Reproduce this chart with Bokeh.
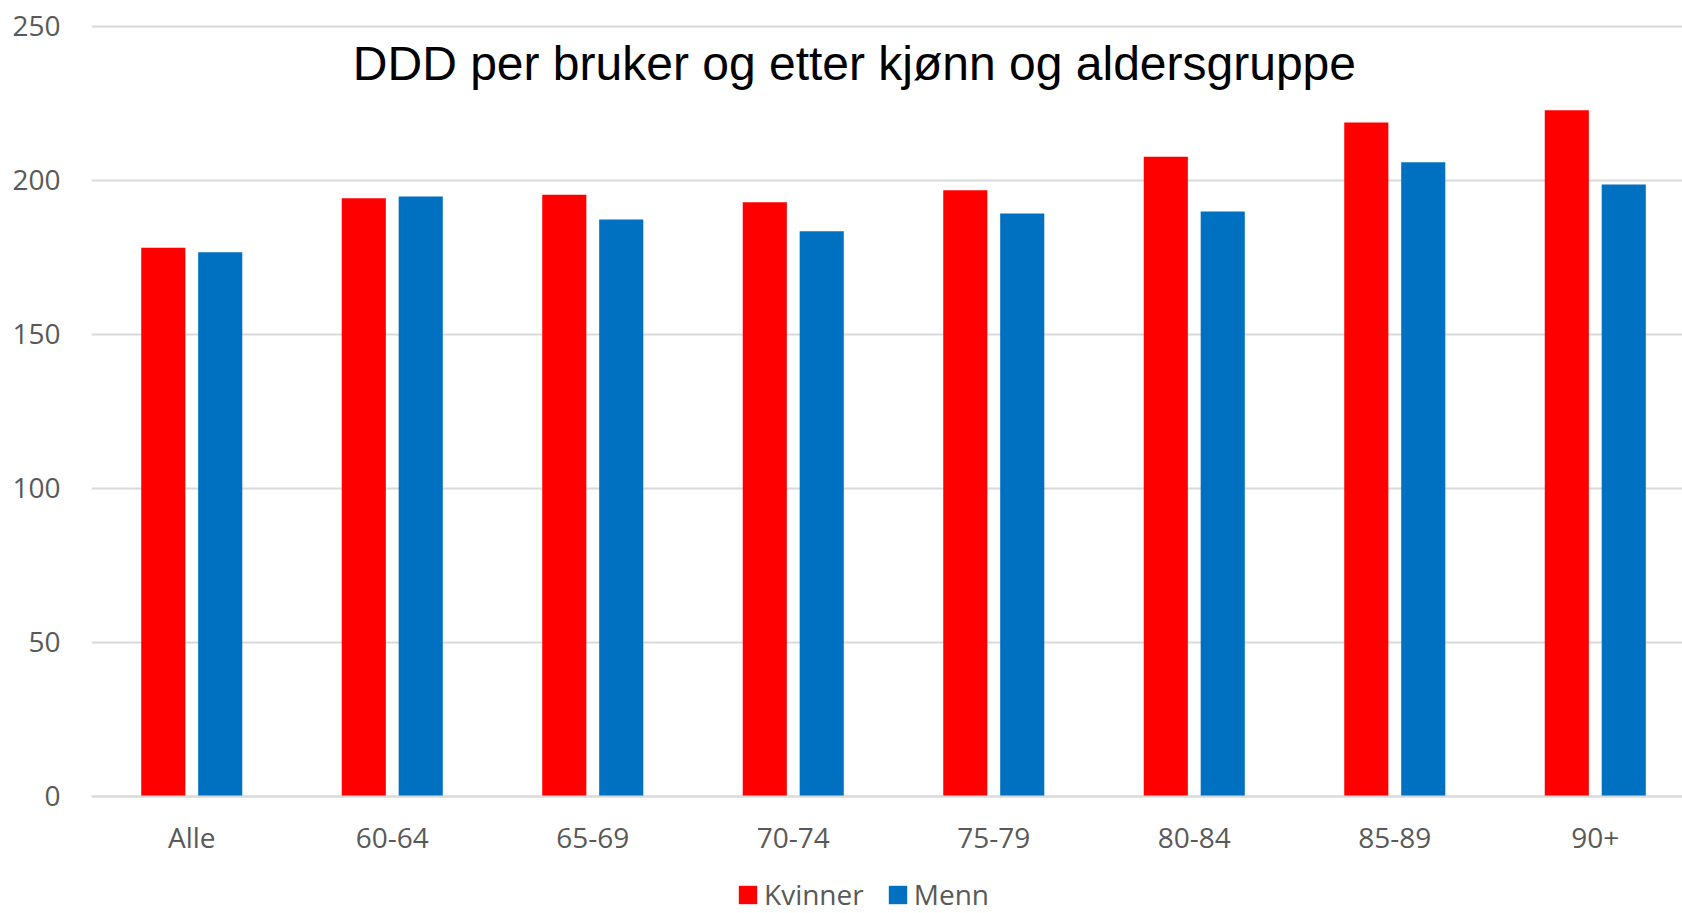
from bokeh.plotting import figure
from bokeh.models import (ColumnDataSource, Range1d, FixedTicker, Label, Legend, LegendItem)
from bokeh.transform import dodge
from bokeh.embed import file_html
from bokeh.resources import INLINE

categories = ["Alle", "60-64", "65-69", "70-74", "75-79", "80-84", "85-89", "90+"]
kvinner = [178.1, 194.1, 195.3, 192.8, 196.7, 207.6, 218.7, 222.7]
menn = [176.6, 194.7, 187.2, 183.4, 189.2, 189.8, 205.8, 198.6]
y_ticks = [0, 50, 100, 150, 200, 250]
title_text = "DDD per bruker og etter kjønn og aldersgruppe"

RED = "#FF0000"
BLUE = "#0070C0"
GRID = "#D9D9D9"
TXT = "#595959"

idx = list(range(len(categories)))
src = ColumnDataSource(dict(x=idx, cat=categories, k=kvinner, m=menn))

p = figure(width=1682, height=913, output_backend="svg", toolbar_location=None,
           x_range=Range1d(-0.5, 7.435), y_range=Range1d(-38.1, 252.5),
           min_border_left=91, min_border_right=0, min_border_top=18, min_border_bottom=0)
p.outline_line_color = None
p.background_fill_color = "white"
p.border_fill_color = "white"

rk = p.vbar(x=dodge("x", -0.142, range=p.x_range), top="k", bottom=0, width=0.22, source=src,
            fill_color=RED, line_color=None)
rm = p.vbar(x=dodge("x", 0.142, range=p.x_range), top="m", bottom=0, width=0.22, source=src,
            fill_color=BLUE, line_color=None)

# axes
p.xaxis.fixed_location = 0
p.xaxis.ticker = FixedTicker(ticks=idx)
p.xaxis.major_label_overrides = {i: c for i, c in zip(idx, categories)}
p.xaxis.axis_line_color = GRID
p.xaxis.axis_line_width = 2
p.xaxis.major_tick_line_color = None
p.xaxis.minor_tick_line_color = None
p.xaxis.major_tick_out = 0
p.xaxis.major_tick_in = 0
p.xaxis.minor_tick_out = 0
p.xaxis.major_label_standoff = 22
p.xaxis.major_label_text_font = "Open Sans"
p.xaxis.major_label_text_font_size = "28px"
p.xaxis.major_label_text_color = TXT

p.yaxis.ticker = FixedTicker(ticks=y_ticks)
p.yaxis.axis_line_color = None
p.yaxis.major_tick_line_color = None
p.yaxis.minor_tick_line_color = None
p.yaxis.major_tick_out = 0
p.yaxis.major_tick_in = 0
p.yaxis.minor_tick_out = 0
p.yaxis.major_label_standoff = 31
p.yaxis.major_label_text_font = "Open Sans"
p.yaxis.major_label_text_font_size = "28px"
p.yaxis.major_label_text_color = TXT

p.xgrid.grid_line_color = None
p.ygrid.ticker = FixedTicker(ticks=y_ticks)
p.ygrid.grid_line_color = GRID
p.ygrid.grid_line_width = 2

# title inside plot area
p.add_layout(Label(x=3.305, y=238.0, text=title_text, text_font="Liberation Sans",
                   text_font_size="48px", text_color="black", text_align="center",
                   text_baseline="alphabetic"))

legend = Legend(items=[LegendItem(label="Kvinner", renderers=[rk]),
                       LegendItem(label="Menn", renderers=[rm])],
                orientation="horizontal", location=(645, 0),
                glyph_width=23, glyph_height=23, label_standoff=5, spacing=22,
                padding=0, margin=0, border_line_alpha=0, background_fill_alpha=0,
                label_text_font="Open Sans", label_text_font_size="28px",
                label_text_color=TXT)
p.add_layout(legend, "center")

open("out.html", "w").write(file_html(p, INLINE))
